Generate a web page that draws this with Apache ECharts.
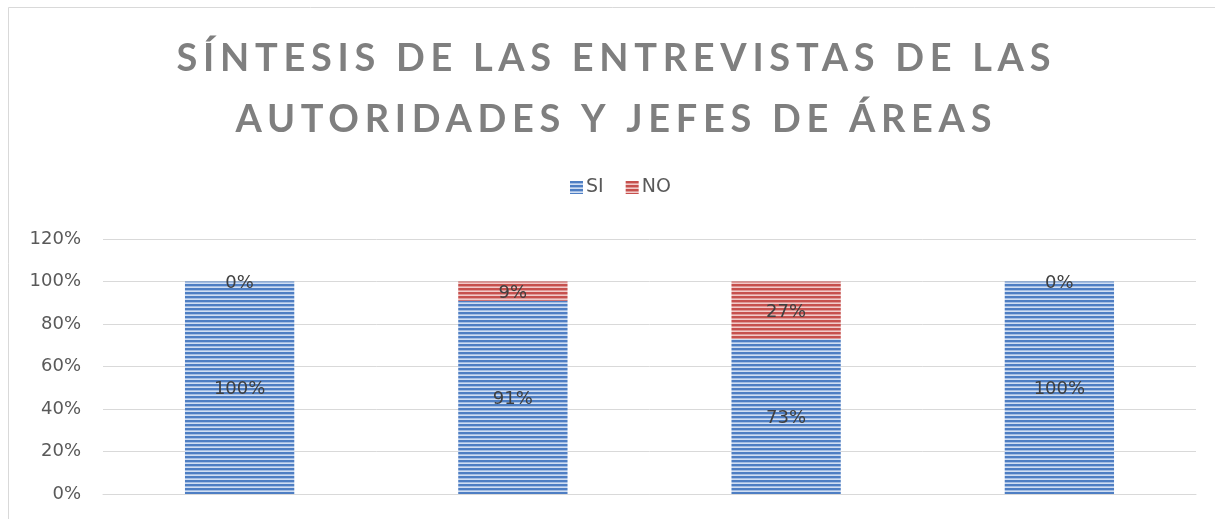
<!DOCTYPE html>
<html>
<head>
<meta charset="utf-8">
<script src="https://cdn.jsdelivr.net/npm/echarts@6/dist/echarts.min.js"></script>
<style>html,body{margin:0;padding:0;background:#fff;}#c{width:1215px;height:519px;}</style>
</head>
<body>
<div id="c"></div>
<script>
var titleLines = ['SÍNTESIS DE LAS ENTREVISTAS DE LAS', 'AUTORIDADES Y JEFES DE ÁREAS'];
var categories = ['1', '2', '3', '4'];
var siValues = [1.00, 0.91, 0.73, 1.00];
var noValues = [0.00, 0.09, 0.27, 0.00];
var yTicks = [0, 0.2, 0.4, 0.6, 0.8, 1.0, 1.2];

var TITLE_FONT = 'Lato';
var LABEL_FONT = 'DejaVu Sans';

// solve font size & letter spacing so the title lines span the reference widths
var mc = document.createElement('canvas').getContext('2d');
mc.font = 'bold 100px ' + TITLE_FONT;
var a1 = mc.measureText(titleLines[0]).width / 100;
var a2 = mc.measureText(titleLines[1]).width / 100;
var W1 = 874, W2 = 756, n1 = titleLines[0].length - 1, n2 = titleLines[1].length - 1;
var det = a1 * n2 - a2 * n1;
var titleSize = (W1 * n2 - W2 * n1) / det;
var titleSpacing = (a1 * W2 - a2 * W1) / det;
if (!(titleSize > 25 && titleSize < 50) || !(titleSpacing >= 0 && titleSpacing < 15)) {
  titleSize = 34;
  titleSpacing = (W1 - a1 * titleSize) / n1;
}
var TITLE_SHIFT = 6;

// letter-spaced drawing of the title lines only
(function () {
  var P = CanvasRenderingContext2D.prototype;
  var orig = P.fillText;
  P.fillText = function (t, x, y, mw) {
    if (titleLines.indexOf(t) >= 0 && 'letterSpacing' in this) {
      var prev = this.letterSpacing;
      var s = titleSpacing;
      this.letterSpacing = s + 'px';
      var n = t.length;
      if (this.textAlign === 'center') x += s / 2;
      else if (this.textAlign === 'right' || this.textAlign === 'end') x += s;
      else x -= (n - 1) * s / 2;
      orig.call(this, t, x + TITLE_SHIFT, y);
      this.letterSpacing = prev;
      return;
    }
    return orig.apply(this, arguments);
  };
})();

function stripes(dark, mid, light) {
  var c = document.createElement('canvas');
  c.width = 4; c.height = 4;
  var g = c.getContext('2d');
  g.fillStyle = dark; g.fillRect(0, 0, 4, 2);
  g.fillStyle = mid; g.fillRect(0, 2, 4, 1);
  g.fillStyle = light; g.fillRect(0, 3, 4, 1);
  return { image: c, repeat: 'repeat' };
}
var bluePat = stripes('#4e7ec3', '#a3bde3', '#d0def2');
var redPat = stripes('#c6504d', '#df9896', '#f1cac9');

function pct(p) { return Math.round(p.value * 100) + '%'; }

var chart = echarts.init(document.getElementById('c'), null, { renderer: 'canvas' });
chart.setOption({
  animation: false,
  backgroundColor: '#fff',
  title: {
    text: titleLines.join('\n'),
    left: 'center',
    top: 23,
    textStyle: {
      fontFamily: TITLE_FONT,
      fontWeight: 'bold',
      fontSize: titleSize,
      color: '#7f7f7f',
      lineHeight: 61
    }
  },
  legend: {
    top: 173,
    left: 565,
    itemWidth: 13,
    itemHeight: 13,
    itemGap: 22,
    icon: 'rect',
    textStyle: { fontFamily: LABEL_FONT, fontSize: 19, color: '#595959', padding: [0, 0, 0, -2] },
    data: [
      { name: 'SI', itemStyle: { color: bluePat } },
      { name: 'NO', itemStyle: { color: redPat } }
    ]
  },
  grid: { left: 103, right: 19, top: 239, bottom: 25, containLabel: false },
  xAxis: {
    type: 'category',
    data: categories,
    axisLine: { lineStyle: { color: '#d9d9d9', width: 1 } },
    axisTick: { show: false },
    axisLabel: { show: false }
  },
  yAxis: {
    type: 'value',
    min: yTicks[0], max: yTicks[yTicks.length - 1], interval: 0.2,
    axisLine: { show: false },
    axisTick: { show: false },
    splitLine: { lineStyle: { color: '#d9d9d9', width: 1 } },
    axisLabel: {
      margin: 22,
      fontFamily: LABEL_FONT,
      fontSize: 18,
      color: '#595959',
      formatter: function (v) { return Math.round(v * 100) + '%'; }
    }
  },
  series: [
    {
      name: 'SI', type: 'bar', stack: 'total', data: siValues, barWidth: '40%',
      itemStyle: { color: bluePat },
      label: { show: true, position: 'inside', offset: [0, 2], formatter: pct, fontFamily: LABEL_FONT, fontSize: 18, color: '#404040' }
    },
    {
      name: 'NO', type: 'bar', stack: 'total', data: noValues, barWidth: '40%',
      itemStyle: { color: redPat },
      label: { show: true, position: 'inside', offset: [0, 2], formatter: pct, fontFamily: LABEL_FONT, fontSize: 18, color: '#404040' }
    }
  ],
  graphic: [
    { type: 'rect', shape: { x: 8.5, y: 7.5, width: 1300, height: 600 }, style: { fill: 'none', stroke: '#d9d9d9', lineWidth: 1 }, silent: true }
  ]
});
</script>
</body>
</html>
